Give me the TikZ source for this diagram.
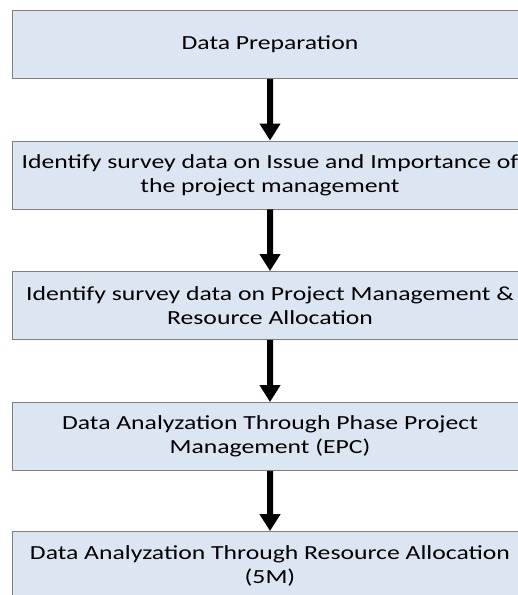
\documentclass[tikz,border=0pt]{standalone}
\usepackage{fontspec}
\setmainfont{Carlito}
\usetikzlibrary{positioning}
\usetikzlibrary{arrows.meta}

\definecolor{boxfill}{HTML}{DCE6F2}
\definecolor{boxline}{HTML}{7F7F7F}

\tikzset{
    stage/.style = {rectangle, draw = boxline, fill = boxfill, line width = 0.9pt,
        minimum width = 401.6pt, minimum height = 68pt, align = center, inner sep = 0pt,
        xscale = 1.285, font = \fontsize{20}{24}\selectfont, text = black},
    flow/.style = {black, line width = 6pt, -{Triangle[width = 20pt, length = 17pt]}, shorten >= 0pt}
}

\begin{document}
\begin{tikzpicture}[x = 1pt, y = 1pt]

    \useasboundingbox (0,0) rectangle (518,-595);
    \clip (0,0) rectangle (518,-595);

    \begin{scope}[on grid]

        \node (prep) at (270,-44.5) [stage] {Data Preparation};

        \node (issue) [stage, below = 130.5pt of prep] {Identify survey data on Issue and Importance of\\the project management};
        \node (alloc) [stage, below = 130.5pt of issue] {Identify survey data on Project Management \&\\Resource Allocation};
        \node (epc) [stage, below = 131pt of alloc] {Data Analyzation Through Phase Project\\Management (EPC)};
        \node (fivem) [stage, below = 129pt of epc] {Data Analyzation Through Resource Allocation\\(5M)};

        \draw[flow] (prep) -- (issue);
        \draw[flow] (issue) -- (alloc);
        \draw[flow] (alloc) -- (epc);
        \draw[flow] (epc) -- (fivem);

    \end{scope}

\end{tikzpicture}
\end{document}
